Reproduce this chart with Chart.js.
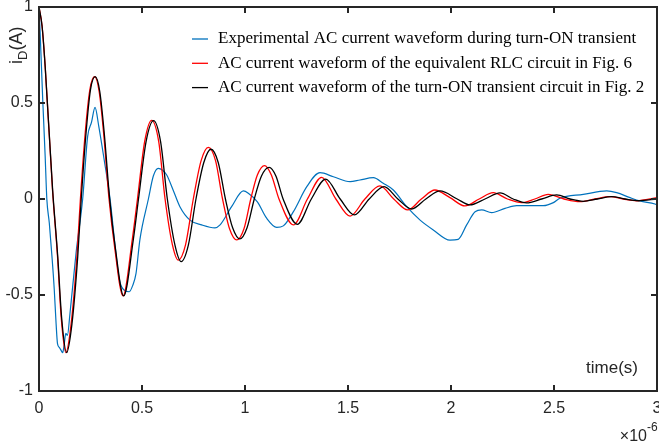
<!DOCTYPE html>
<html>
<head>
<meta charset="utf-8">
<script src="https://cdn.jsdelivr.net/npm/chart.js@4.4.1/dist/chart.umd.min.js"></script>
<style>
html, body { margin: 0; padding: 0; background: #fff; }
</style>
</head>
<body>
<canvas id="myChart" width="659" height="448"></canvas>
<script>
// time in microseconds (axis shows x10^-6 s), current iD in A

// experimental waveform (blue)
var blueT = [0, 0.005, 0.018, 0.030, 0.038, 0.050, 0.063, 0.074, 0.083, 0.090, 0.100, 0.108, 0.115, 0.122, 0.130, 0.138, 0.150, 0.180, 0.212, 0.236, 0.255, 0.272, 0.290, 0.317, 0.345, 0.370, 0.390, 0.414, 0.438, 0.455, 0.471, 0.490, 0.531, 0.555, 0.579, 0.600, 0.620, 0.650, 0.684, 0.733, 0.790, 0.854, 0.879, 0.935, 0.992, 1.016, 1.060, 1.105, 1.154, 1.186, 1.235, 1.300, 1.364, 1.429, 1.510, 1.558, 1.623, 1.671, 1.720, 1.785, 1.850, 1.914, 1.995, 2.035, 2.076, 2.117, 2.149, 2.197, 2.262, 2.319, 2.448, 2.497, 2.529, 2.642, 2.756, 2.804, 2.869, 2.917, 2.990, 3.000];
var blueV = [1.0, 0.88, 0.52, 0.22, 0.0, -0.125, -0.30, -0.47, -0.65, -0.755, -0.775, -0.79, -0.80, -0.76, -0.70, -0.71, -0.60, -0.28, 0.0, 0.325, 0.40, 0.477, 0.38, 0.20, 0.0, -0.25, -0.42, -0.475, -0.483, -0.45, -0.387, -0.21, 0.0, 0.12, 0.16, 0.15, 0.125, 0.05, -0.04, -0.11, -0.135, -0.15, -0.135, -0.04, 0.042, 0.03, -0.015, -0.10, -0.148, -0.14, -0.066, 0.064, 0.137, 0.116, 0.090, 0.099, 0.111, 0.082, 0.047, -0.040, -0.110, -0.161, -0.214, -0.210, -0.135, -0.066, -0.057, -0.071, -0.049, -0.035, -0.035, -0.019, 0.004, 0.024, 0.042, 0.033, 0.007, -0.010, -0.026, -0.030];

// equivalent RLC circuit (red)
var redT = [0, 0.015, 0.030, 0.066, 0.090, 0.108, 0.130, 0.156, 0.184, 0.201, 0.224, 0.247, 0.270, 0.292, 0.314, 0.340, 0.367, 0.408, 0.453, 0.478, 0.513, 0.547, 0.581, 0.612, 0.648, 0.676, 0.711, 0.749, 0.787, 0.822, 0.857, 0.891, 0.925, 0.960, 0.995, 1.028, 1.060, 1.095, 1.128, 1.165, 1.235, 1.303, 1.372, 1.441, 1.510, 1.582, 1.655, 1.722, 1.790, 1.856, 1.922, 1.995, 2.068, 2.137, 2.205, 2.274, 2.343, 2.407, 2.472, 2.549, 2.626, 2.699, 2.772, 2.836, 2.901, 3.000];
var redV = [1.0, 0.90, 0.69, 0.04, -0.30, -0.62, -0.80, -0.65, -0.30, 0.0, 0.34, 0.57, 0.637, 0.56, 0.34, 0.0, -0.25, -0.505, -0.21, 0.0, 0.30, 0.41, 0.30, 0.0, -0.24, -0.318, -0.24, 0.0, 0.20, 0.269, 0.20, 0.0, -0.155, -0.213, -0.155, 0.0, 0.125, 0.174, 0.125, 0.0, -0.135, 0.0, 0.113, 0.0, -0.089, 0.0, 0.068, 0.0, -0.057, 0.0, 0.047, 0.007, -0.036, 0.0, 0.033, 0.0, -0.019, 0.0, 0.024, 0.0, -0.014, 0.0, 0.012, 0.0, -0.009, 0.007];

// turn-ON transient circuit (black)
var blackT = [0, 0.015, 0.030, 0.066, 0.091, 0.110, 0.134, 0.160, 0.188, 0.205, 0.228, 0.250, 0.273, 0.295, 0.317, 0.343, 0.370, 0.411, 0.458, 0.483, 0.520, 0.556, 0.590, 0.623, 0.660, 0.690, 0.725, 0.762, 0.800, 0.835, 0.870, 0.905, 0.940, 0.975, 1.010, 1.045, 1.080, 1.117, 1.150, 1.185, 1.254, 1.322, 1.392, 1.462, 1.531, 1.603, 1.675, 1.742, 1.809, 1.878, 1.947, 2.030, 2.092, 2.165, 2.238, 2.302, 2.367, 2.440, 2.513, 2.578, 2.642, 2.711, 2.780, 2.845, 2.910, 3.000];
var blackV = [1.0, 0.90, 0.69, 0.05, -0.30, -0.62, -0.80, -0.65, -0.30, 0.0, 0.34, 0.57, 0.637, 0.56, 0.34, 0.0, -0.25, -0.505, -0.21, 0.0, 0.30, 0.408, 0.30, 0.0, -0.24, -0.326, -0.24, 0.0, 0.19, 0.259, 0.19, 0.0, -0.15, -0.208, -0.15, 0.0, 0.12, 0.165, 0.12, 0.0, -0.132, 0.0, 0.104, 0.0, -0.083, 0.0, 0.064, 0.0, -0.052, 0.0, 0.042, 0.0, -0.031, 0.0, 0.032, 0.0, -0.020, 0.0, 0.021, 0.0, -0.012, 0.0, 0.012, 0.0, -0.009, 0.0];

var xTicks = [0, 0.5, 1, 1.5, 2, 2.5, 3];
var yTicks = [-1, -0.5, 0, 0.5, 1];

var legendLabels = [
    'Experimental AC current waveform during turn-ON transient',
    'AC current waveform of the equivalent RLC circuit in Fig. 6',
    'AC current waveform of the turn-ON transient circuit in Fig. 2'
];
var lineColors = ['#0072BD', '#FF0000', '#000000'];

function toPoints(ts, vs) {
    var pts = [];
    for (var i = 0; i < ts.length; i++) pts.push({ x: ts[i], y: vs[i] });
    return pts;
}

var axisColor = '#262626';
var tickFont = { family: 'Liberation Sans', size: 16 };

// khung, vạch chia hướng vào trong, chú thích và nhãn trục
var decorations = {
    id: 'decorations',
    afterDatasetsDraw: function (chart) {
        var ctx = chart.ctx, a = chart.chartArea;
        var sx = chart.scales.x, sy = chart.scales.y;
        ctx.save();
        ctx.strokeStyle = axisColor;
        ctx.lineWidth = 2;
        ctx.strokeRect(a.left, a.top, a.right - a.left, a.bottom - a.top);
        ctx.beginPath();
        xTicks.forEach(function (v) {
            var px = Math.round(sx.getPixelForValue(v));
            ctx.moveTo(px, a.bottom); ctx.lineTo(px, a.bottom - 6);
            ctx.moveTo(px, a.top); ctx.lineTo(px, a.top + 6);
        });
        yTicks.forEach(function (v) {
            var py = Math.round(sy.getPixelForValue(v));
            ctx.moveTo(a.left, py); ctx.lineTo(a.left + 6, py);
            ctx.moveTo(a.right, py); ctx.lineTo(a.right - 6, py);
        });
        ctx.stroke();

        // legend
        ctx.font = '17px "Liberation Serif"';
        ctx.textBaseline = 'middle';
        ctx.textAlign = 'left';
        ctx.lineWidth = 1.3;
        for (var i = 0; i < legendLabels.length; i++) {
            var ly = 39 + i * 24.3;
            ctx.strokeStyle = lineColors[i];
            ctx.beginPath();
            ctx.moveTo(192, ly); ctx.lineTo(208, ly);
            ctx.stroke();
            ctx.fillStyle = '#000';
            ctx.fillText(legendLabels[i], 218, ly);
        }

        // x label inside plot
        ctx.fillStyle = axisColor;
        ctx.font = '17px "Liberation Sans"';
        ctx.textAlign = 'right';
        ctx.fillText('time(s)', a.right - 19, a.bottom - 23);

        // exponent marker
        ctx.font = '16px "Liberation Sans"';
        ctx.textAlign = 'right';
        ctx.fillText('\u00d710', 647, 437);
        ctx.font = '12px "Liberation Sans"';
        ctx.textAlign = 'left';
        ctx.fillText('-6', 647, 428);

        // y label i_D(A)
        ctx.translate(22, 64);
        ctx.rotate(-Math.PI / 2);
        ctx.textAlign = 'left';
        ctx.textBaseline = 'alphabetic';
        ctx.font = '18px "Liberation Sans"';
        ctx.fillText('i', 0, 0);
        var w = ctx.measureText('i').width;
        ctx.font = '13px "Liberation Sans"';
        ctx.fillText('D', w, 5);
        w += ctx.measureText('D').width;
        ctx.font = '18px "Liberation Sans"';
        ctx.fillText('(A)', w, 0);
        ctx.restore();
    }
};

var ctx = document.getElementById('myChart').getContext('2d');

function ds(label, pts, color, width, order) {
    return {
        label: label,
        data: pts,
        borderColor: color,
        borderWidth: width,
        pointRadius: 0,
        fill: false,
        cubicInterpolationMode: 'monotone',
        order: order
    };
}

function plainLabel(v) { return String(v); }

var myChart = new Chart(ctx, {
    type: 'line',
    data: {
        datasets: [
            ds(legendLabels[0], toPoints(blueT, blueV), lineColors[0], 1.2, 2),
            ds(legendLabels[1], toPoints(redT, redV), lineColors[1], 1.3, 1),
            ds(legendLabels[2], toPoints(blackT, blackV), lineColors[2], 1.3, 0)
        ]
    },
    options: {
        responsive: false,
        animation: false,
        devicePixelRatio: 1,
        layout: { padding: { top: 7, right: 2, left: 0, bottom: 0 } },
        plugins: { legend: { display: false }, tooltip: { enabled: false } },
        scales: {
            x: {
                type: 'linear',
                min: 0, max: 3,
                afterFit: function (s) { s.height = 57; s.paddingLeft = 0; s.paddingRight = 0; },
                afterBuildTicks: function (s) { s.ticks = xTicks.map(function (v) { return { value: v }; }); },
                grid: { display: false, drawTicks: false },
                border: { display: false },
                ticks: { color: axisColor, font: tickFont, padding: 8, maxRotation: 0, callback: plainLabel }
            },
            y: {
                min: -1, max: 1,
                afterFit: function (s) { s.width = 39; s.paddingTop = 0; s.paddingBottom = 0; },
                afterBuildTicks: function (s) { s.ticks = yTicks.map(function (v) { return { value: v }; }); },
                grid: { display: false, drawTicks: false },
                border: { display: false },
                ticks: { color: axisColor, font: tickFont, padding: 6, callback: plainLabel }
            }
        }
    },
    plugins: [decorations]
});
</script>
</body>
</html>
